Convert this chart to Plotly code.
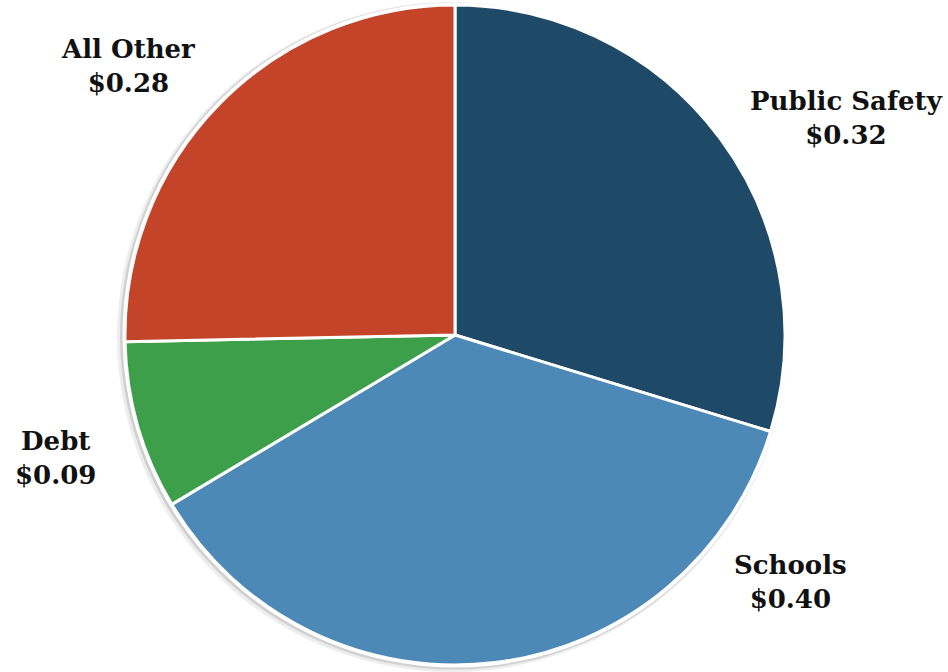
import plotly.graph_objects as go

categories = ["Public Safety", "Schools", "Debt", "All Other"]
values = [0.324, 0.400, 0.090, 0.276]
colors = ["#1F4A67", "#4C89B7", "#3E9F4A", "#C4442A"]

# label anchor positions (pixels, centre of text block)
label_pos = [(846, 118), (790, 582), (55, 458), (128, 66)]

W, H = 948, 672


def dom(cx, cy, r):
    return dict(x=[(cx - r) / W, (cx + r) / W], y=[1 - (cy + r) / H, 1 - (cy - r) / H])


fig = go.Figure()
# soft shadow + white rim behind the pie
for (cx, cy, r, col) in [(452, 337, 335, "rgba(0,0,0,0.07)"),
                         (453.5, 336, 333.5, "rgba(0,0,0,0.12)"),
                         (455, 335, 332.5, "white")]:
    fig.add_trace(go.Pie(
        values=[1], labels=["bg"], sort=False,
        marker=dict(colors=[col], line=dict(width=0)),
        textinfo="none", hoverinfo="skip", showlegend=False,
        domain=dom(cx, cy, r),
    ))

fig.add_trace(go.Pie(
    labels=categories,
    values=values,
    sort=False,
    direction="clockwise",
    rotation=0,
    marker=dict(colors=colors, line=dict(color="white", width=3)),
    textinfo="none",
    hoverinfo="label+value",
    domain=dom(455, 335, 330),
    showlegend=False,
))

for cat, val, (px, py) in zip(categories, values, label_pos):
    fig.add_annotation(
        x=px / W, y=1 - py / H, xref="paper", yref="paper",
        text=f"<b>{cat}</b><br><b>${val:.2f}</b>",
        showarrow=False, align="center",
        font=dict(family="DejaVu Serif", size=26, color="#111111"),
        xanchor="center", yanchor="middle",
    )

fig.update_layout(
    width=W, height=H,
    margin=dict(l=0, r=0, t=0, b=0),
    paper_bgcolor="white",
    plot_bgcolor="white",
)

fig.write_html("out.html")
